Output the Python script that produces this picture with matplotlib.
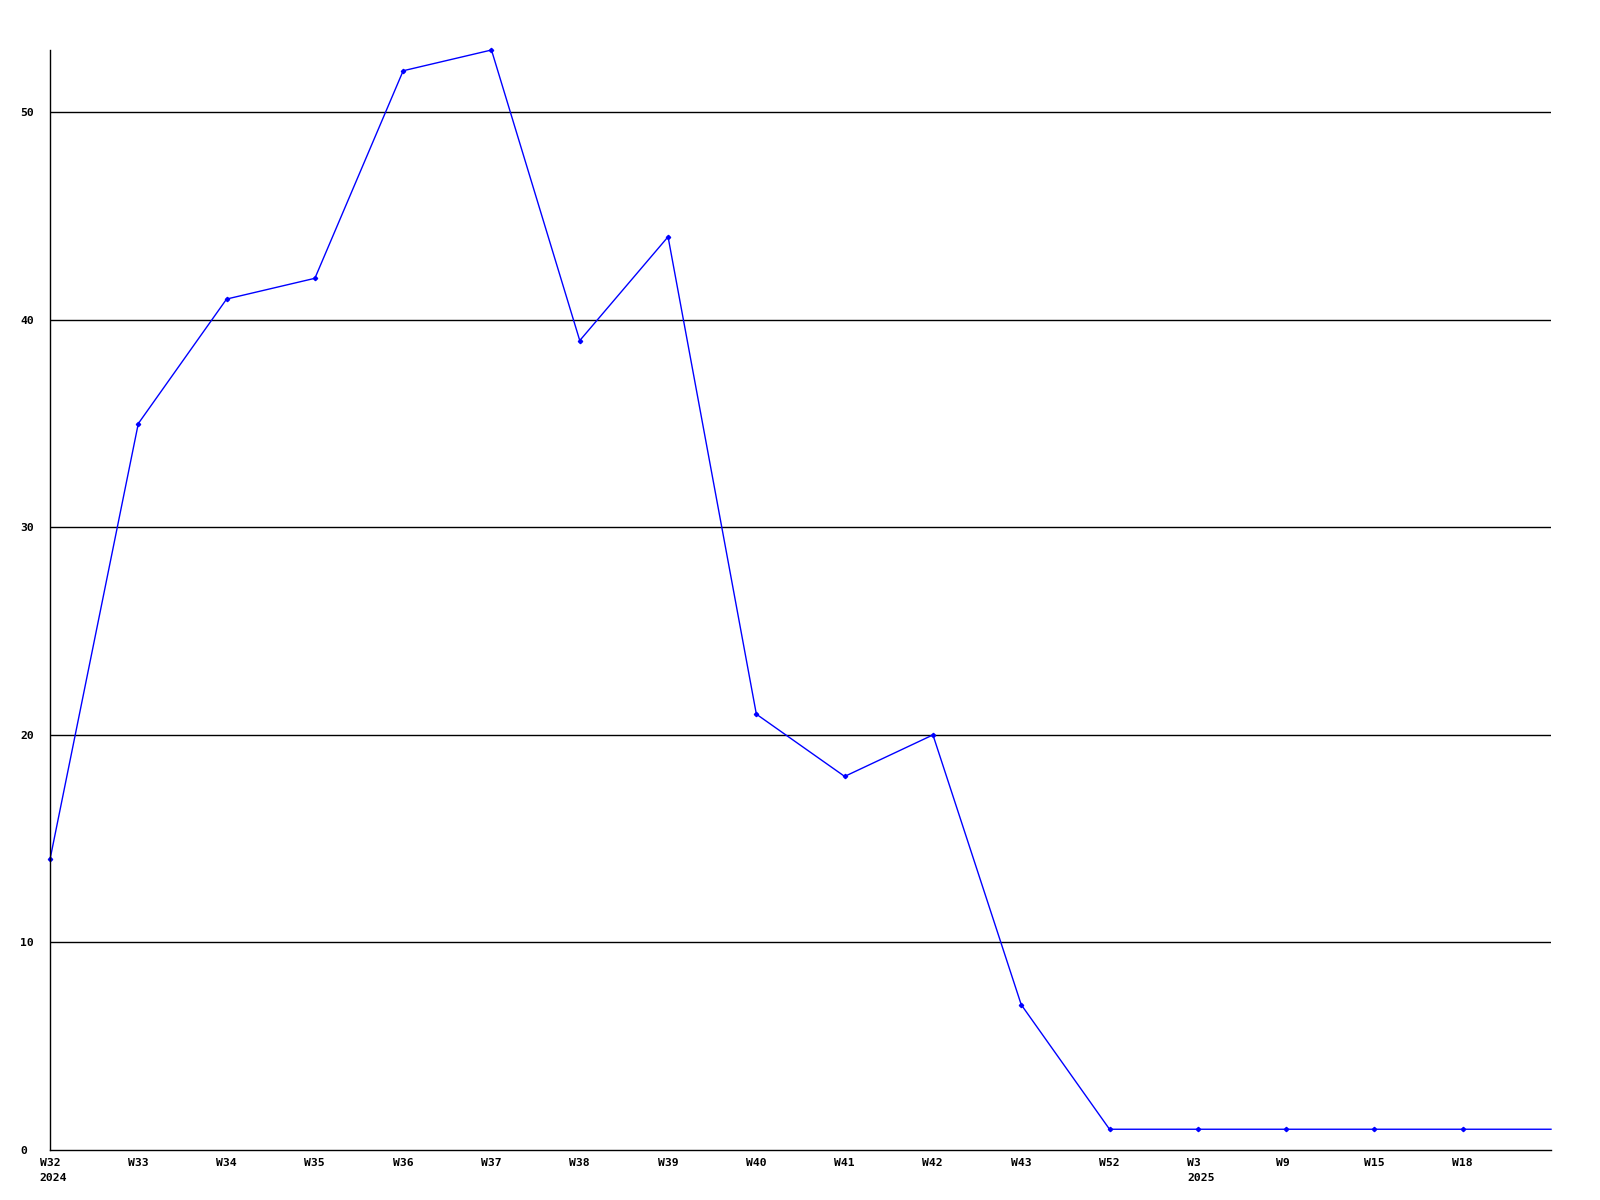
import matplotlib
matplotlib.use("Agg")
import matplotlib.pyplot as plt
import matplotlib.transforms as mtransforms

weeks = ["W32", "W33", "W34", "W35", "W36", "W37", "W38", "W39", "W40",
         "W41", "W42", "W43", "W52", "W3", "W9", "W15", "W18", ""]
years = {0: "2024", 13: "2025"}
counts = [14, 35, 41, 42, 52, 53, 39, 44, 21, 18, 20, 7, 1, 1, 1, 1, 1, 1]
yticks = [0, 10, 20, 30, 40, 50]

FONT = dict(family="DejaVu Sans Mono", fontweight="bold", fontsize=8.2)

fig = plt.figure(figsize=(16, 12), dpi=100)
ax = fig.add_axes([50 / 1600, 50 / 1200, 1501 / 1600, 1100 / 1200])

x = list(range(len(counts)))
ax.plot(x, counts, color="#0000ff", linewidth=1, marker="D", markersize=2.2,
        markevery=list(range(len(counts) - 1)), clip_on=False)

ax.set_xlim(0, len(counts) - 1)
ax.set_ylim(0, 53)
ax.set_yticks(yticks)
ax.set_yticklabels([str(v) for v in yticks], **FONT, ha="left")
ax.set_xticks(x)
ax.set_xticklabels(weeks, **FONT, ha="left")
ax.tick_params(axis="both", length=0)
ax.tick_params(axis="y", pad=21.3)
ax.tick_params(axis="x", pad=5.5)

# shift week labels so they start a bit left of the tick, like the original
shift = mtransforms.ScaledTranslation(-10.5 / 100, 0, fig.dpi_scale_trans)
for lbl in ax.get_xticklabels():
    lbl.set_transform(lbl.get_transform() + shift)

# year labels under the first week of each year
for i, yr in years.items():
    ax.annotate(yr, xy=(i, 0), xycoords=("data", "axes fraction"),
                xytext=(-7.6, -16.5), textcoords="offset points",
                ha="left", va="top", annotation_clip=False, **FONT)

for v in yticks[1:]:
    ax.axhline(v, color="black", linewidth=1, zorder=0)

ax.spines["top"].set_visible(False)
ax.spines["right"].set_visible(False)
ax.spines["left"].set_linewidth(1)
ax.spines["bottom"].set_linewidth(1)

fig.savefig("out.png", dpi=100, facecolor="white")
